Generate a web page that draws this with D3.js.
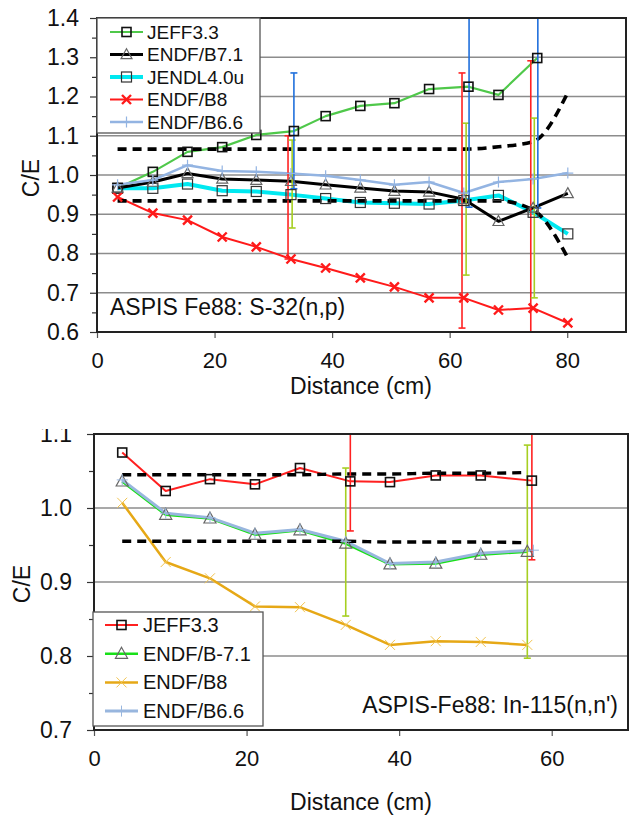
<!DOCTYPE html>
<html><head><meta charset="utf-8">
<script src="https://cdn.jsdelivr.net/npm/d3@7"></script>
<style>body{margin:0;background:#fff}svg{display:block;font-family:"Liberation Sans",Arial,sans-serif}</style>
</head><body>
<svg id="c" width="630" height="816"></svg>
<script>
// ---------- TOP PANEL DATA: ASPIS Fe88 S-32(n,p) ----------
const topDist     = [3.5, 9.5, 15.4, 21.3, 27.1, 33.0, 38.9, 44.8, 50.6, 56.5, 62.4, 68.3, 74.2, 80.1];
const topJeffDist = [3.5, 9.5, 15.4, 21.3, 27.1, 33.5, 38.9, 44.8, 50.6, 56.5, 63.2, 68.3, 74.9];
const topJEFF33   = [0.967, 1.008, 1.059, 1.071, 1.102, 1.112, 1.150, 1.176, 1.183, 1.219, 1.225, 1.204, 1.298];
const topENDF71   = [0.967, 0.982, 1.004, 0.990, 0.987, 0.984, 0.975, 0.967, 0.959, 0.957, 0.938, 0.882, 0.916, 0.953];
const topJENDL40  = [0.966, 0.966, 0.977, 0.960, 0.958, 0.950, 0.940, 0.930, 0.928, 0.926, 0.935, 0.948, 0.905, 0.850];
const topENDF8    = [0.944, 0.903, 0.885, 0.842, 0.817, 0.786, 0.763, 0.738, 0.715, 0.687, 0.687, 0.656, 0.661, 0.623];
const topENDF66   = [0.975, 0.987, 1.025, 1.010, 1.008, 1.004, 0.998, 0.987, 0.975, 0.982, 0.954, 0.982, 0.990, 1.005];
const topBandHi   = [1.066, 1.066, 1.066, 1.066, 1.066, 1.066, 1.066, 1.066, 1.066, 1.066, 1.066, 1.072, 1.085, 1.210];
const topBandLo   = [0.934, 0.934, 0.934, 0.934, 0.934, 0.934, 0.934, 0.934, 0.934, 0.934, 0.934, 0.934, 0.911, 0.789];
const topErrBlueX = [33.5, 63.3, 75.0];
const topErrBlueLo= [0.965, 0.918, 0.916];
const topErrBlueHi= [1.260, 1.530, 1.680];
const topErrRedX  = [32.5, 62.1, 73.8];
const topErrRedLo = [0.786, 0.610, 0.510];
const topErrRedHi = [1.100, 1.260, 1.291];
const topErrYelX  = [33.2, 62.8, 74.4];
const topErrYelLo = [0.865, 0.745, 0.687];
const topErrYelHi = [1.089, 1.132, 1.145];
const topYTicks   = [0.6, 0.7, 0.8, 0.9, 1.0, 1.1, 1.2, 1.3, 1.4];
const topXTicks   = [0, 20, 40, 60, 80];

// ---------- BOTTOM PANEL DATA: ASPIS-Fe88 In-115(n,n') ----------
const botDist     = [3.7, 9.4, 15.2, 21.1, 27.0, 33.0, 38.8, 44.8, 50.7, 56.8];
const botB66Dist  = [3.7, 9.4, 15.2, 21.1, 27.0, 33.0, 38.8, 44.8, 50.7, 57.6];
const botJeffDist = [3.7, 9.4, 15.2, 21.1, 27.0, 33.6, 38.8, 44.8, 50.7, 57.4];
const botJEFF33   = [1.075, 1.023, 1.039, 1.032, 1.054, 1.036, 1.035, 1.044, 1.044, 1.037];
const botENDF71   = [1.036, 0.991, 0.986, 0.964, 0.970, 0.952, 0.924, 0.925, 0.937, 0.941];
const botENDF8    = [1.007, 0.927, 0.905, 0.867, 0.866, 0.842, 0.815, 0.820, 0.819, 0.815];
const botENDF66   = [1.038, 0.993, 0.987, 0.966, 0.971, 0.955, 0.925, 0.927, 0.939, 0.943];
const botBandHi   = [1.045, 1.045, 1.045, 1.045, 1.045, 1.046, 1.046, 1.047, 1.047, 1.048];
const botBandLo   = [0.955, 0.955, 0.955, 0.955, 0.955, 0.955, 0.954, 0.954, 0.954, 0.953];
const botErrRedX  = [33.6, 57.4];
const botErrRedLo = [0.969, 0.930];
const botErrRedHi = [1.103, 1.144];
const botErrYelX  = [33.0, 56.8];
const botErrYelLo = [0.854, 0.797];
const botErrYelHi = [1.054, 1.085];
const botYTicks   = [0.7, 0.8, 0.9, 1.0, 1.1];
const botXTicks   = [0, 20, 40, 60];

const svg = d3.select('#c');

function marker(g, type, cx, cy, s, stroke, sw){
  let p;
  if(type==='square'){
    return g.append('rect').attr('x',cx-s/2).attr('y',cy-s/2).attr('width',s).attr('height',s)
      .attr('fill','none').attr('stroke',stroke).attr('stroke-width',sw);
  }
  if(type==='triangle') p=`M${cx},${cy-s*0.58}L${cx+s*0.55},${cy+s*0.42}L${cx-s*0.55},${cy+s*0.42}Z`;
  if(type==='x') p=`M${cx-s/2},${cy-s/2}L${cx+s/2},${cy+s/2}M${cx+s/2},${cy-s/2}L${cx-s/2},${cy+s/2}`;
  if(type==='plus') p=`M${cx-s/2},${cy}L${cx+s/2},${cy}M${cx},${cy-s/2}L${cx},${cy+s/2}`;
  return g.append('path').attr('d',p).attr('fill','none').attr('stroke',stroke).attr('stroke-width',sw);
}

function panel(p, id){
  const x = d3.scaleLinear().domain(p.xDomain).range([p.left, p.right]);
  const y = d3.scaleLinear().domain(p.yDomain).range([p.bottom, p.top]);
  const g = svg.append('g');
  svg.append('clipPath').attr('id',id).append('rect')
    .attr('x',p.left).attr('y',p.top).attr('width',p.right-p.left).attr('height',p.bottom-p.top);

  // gridlines
  g.selectAll(null).data(p.yTicks.slice(1,-1)).join('line')
    .attr('x1',p.left).attr('x2',p.right).attr('y1',d=>y(d)).attr('y2',d=>y(d))
    .attr('stroke','#8c8c8c').attr('stroke-width',1.3);

  // minor y ticks
  const minor = d3.range(p.yTicks.length-1).map(i=>(p.yTicks[i]+p.yTicks[i+1])/2);
  const ym = g.append('g').attr('transform',`translate(${p.left},0)`)
    .call(d3.axisLeft(y).tickValues(minor).tickSize(5).tickFormat(''));
  ym.select('.domain').remove();
  ym.selectAll('line').attr('stroke','#333').attr('stroke-width',1.2);

  const ya = g.append('g').attr('transform',`translate(${p.left},0)`)
    .call(d3.axisLeft(y).tickValues(p.yTicks).tickSize(7).tickPadding(p.yPad).tickFormat(d3.format('.1f')));
  ya.select('.domain').remove();
  ya.selectAll('line').attr('stroke','#333').attr('stroke-width',1.2);
  ya.selectAll('text').attr('font-size',p.tickFont).attr('fill','#111').attr('font-family','"Liberation Sans",Arial,sans-serif');

  const xa = g.append('g').attr('transform',`translate(0,${p.bottom})`)
    .call(d3.axisBottom(x).tickValues(p.xTicks).tickSize(6).tickPadding(p.xPad).tickFormat(d3.format('d')));
  xa.select('.domain').remove();
  xa.selectAll('line').attr('stroke','#555').attr('stroke-width',1.2);
  xa.selectAll('text').attr('font-size',p.xTickFont).attr('fill','#111').attr('font-family','"Liberation Sans",Arial,sans-serif');

  const plot = g.append('g').attr('clip-path',`url(#${id})`);
  const line = d3.line().x(d=>x(d[0])).y(d=>y(d[1]));

  p.series.forEach(s=>{
    const pts = s.ys.map((v,i)=>[s.xs[i], v]);
    plot.append('path').attr('d',line(pts)).attr('fill','none')
      .attr('stroke',s.color).attr('stroke-width',s.width).attr('stroke-linejoin','round');
  });
  p.bands.forEach(b=>{
    const pts = b.ys.map((v,i)=>[b.xs[i], v]);
    plot.append('path').attr('d',d3.line().curve(d3.curveMonotoneX).x(d=>x(d[0])).y(d=>y(d[1]))(pts))
      .attr('fill','none').attr('stroke','#000').attr('stroke-width',p.bandWidth).attr('stroke-dasharray','9,6');
  });
  p.errors.forEach(e=>{
    e.xs.forEach((xv,i)=>{
      const cx = x(xv), y1 = y(e.lo[i]), y2 = y(e.hi[i]);
      plot.append('line').attr('x1',cx).attr('x2',cx).attr('y1',y1).attr('y2',y2)
        .attr('stroke',e.color).attr('stroke-width',1.6);
      [y1,y2].forEach(yy=>plot.append('line').attr('x1',cx-3.5).attr('x2',cx+3.5).attr('y1',yy).attr('y2',yy)
        .attr('stroke',e.color).attr('stroke-width',1.6));
    });
  });
  p.series.forEach(s=>{
    s.ys.forEach((v,i)=>marker(plot, s.marker, x(s.xs[i]), y(v), s.mSize, s.mColor, s.mWidth));
  });

  // frame
  g.append('rect').attr('x',p.left).attr('y',p.top).attr('width',p.right-p.left).attr('height',p.bottom-p.top)
    .attr('fill','none').attr('stroke','#222').attr('stroke-width',2);

  // legend
  const L = p.legend;
  g.append('rect').attr('x',L.x).attr('y',L.y).attr('width',L.w).attr('height',L.h)
    .attr('fill','#fff').attr('stroke','#555').attr('stroke-width',1.3);
  L.order.forEach((si,k)=>{
    const s = p.series[si];
    const yy = L.y0 + k*L.dy;
    g.append('line').attr('x1',L.lx1).attr('x2',L.lx2).attr('y1',yy).attr('y2',yy)
      .attr('stroke',s.color).attr('stroke-width',s.width);
    marker(g, s.marker, (L.lx1+L.lx2)/2, yy, s.mSize, s.mColor, s.mWidth);
    g.append('text').attr('x',L.tx).attr('y',yy).attr('dy','0.35em').attr('font-size',L.font)
      .attr('fill','#111').text(s.name);
  });

  // annotation & labels
  g.append('text').attr('x',p.note.x).attr('y',p.note.y).attr('text-anchor',p.note.anchor)
    .attr('font-size',p.note.font).attr('fill','#111').text(p.note.text);
  g.append('text').attr('transform',`translate(${p.yLab.x},${p.yLab.y}) rotate(-90)`)
    .attr('text-anchor','middle').attr('dy','0.35em').attr('font-size',23).attr('fill','#111').text('C/E');
  g.append('text').attr('x',p.xLab.x).attr('y',p.xLab.y).attr('text-anchor','middle')
    .attr('font-size',23).attr('fill','#111').text('Distance (cm)');
}

panel({
  left:97, right:626, top:18, bottom:332, xDomain:[0,90], yDomain:[0.6,1.4],
  yTicks: topYTicks, xTicks: topXTicks, yPad:11, xPad:14, tickFont:23, xTickFont:22, bandWidth:3.6,
  series:[
    {name:'JENDL4.0u', xs:topDist, ys:topJENDL40, color:'#00e8f0', width:4, marker:'square', mSize:10, mColor:'#333', mWidth:1.2},
    {name:'JEFF3.3', xs:topJeffDist, ys:topJEFF33, color:'#4fc84a', width:2.2, marker:'square', mSize:9, mColor:'#111', mWidth:1.6},
    {name:'ENDF/B8', xs:topDist, ys:topENDF8, color:'#ff1a1a', width:2, marker:'x', mSize:9, mColor:'#ff1a1a', mWidth:2.4},
    {name:'ENDF/B7.1', xs:topDist, ys:topENDF71, color:'#000', width:3, marker:'triangle', mSize:10, mColor:'#666', mWidth:1.2},
    {name:'ENDF/B6.6', xs:topDist, ys:topENDF66, color:'#93b4e2', width:2.5, marker:'plus', mSize:11, mColor:'#93b4e2', mWidth:1.2}
  ],
  bands:[{xs:topDist, ys:topBandHi},{xs:topDist, ys:topBandLo}],
  errors:[
    {xs:topErrRedX, lo:topErrRedLo, hi:topErrRedHi, color:'#ff2222'},
    {xs:topErrYelX, lo:topErrYelLo, hi:topErrYelHi, color:'#a6cf22'},
    {xs:topErrBlueX, lo:topErrBlueLo, hi:topErrBlueHi, color:'#2070dc'}
  ],
  legend:{x:97, y:18, w:163, h:115, y0:32, dy:22.5, lx1:110, lx2:143, tx:147, font:19, order:[1,3,0,2,4]},
  note:{x:110, y:315, anchor:'start', font:23, text:'ASPIS Fe88: S-32(n,p)'},
  yLab:{x:31, y:178}, xLab:{x:361, y:394}
}, 'clipTop');

panel({
  left:94, right:628, top:434, bottom:730, xDomain:[0,70], yDomain:[0.7,1.1],
  yTicks: botYTicks, xTicks: botXTicks, yPad:15, xPad:14, tickFont:23, xTickFont:22, bandWidth:3.4,
  series:[
    {name:'JEFF3.3', xs:botJeffDist, ys:botJEFF33, color:'#ff2020', width:2, marker:'square', mSize:9, mColor:'#111', mWidth:1.6},
    {name:'ENDF/B8', xs:botDist, ys:botENDF8, color:'#e6a816', width:2.5, marker:'x', mSize:10, mColor:'#f2c450', mWidth:1},
    {name:'ENDF/B-7.1', xs:botDist, ys:botENDF71, color:'#18e018', width:2.6, marker:'triangle', mSize:11, mColor:'#666', mWidth:1.2},
    {name:'ENDF/B6.6', xs:botB66Dist, ys:botENDF66, color:'#98b6de', width:3, marker:'plus', mSize:11, mColor:'#98b6de', mWidth:1}
  ],
  bands:[{xs:botDist, ys:botBandHi},{xs:botDist, ys:botBandLo}],
  errors:[
    {xs:botErrYelX, lo:botErrYelLo, hi:botErrYelHi, color:'#a6cf22'},
    {xs:botErrRedX, lo:botErrRedLo, hi:botErrRedHi, color:'#ff2222'}
  ],
  legend:{x:93, y:612, w:170, h:114, y0:625, dy:28.7, lx1:105, lx2:138, tx:143, font:20, order:[0,2,1,3]},
  note:{x:618, y:713, anchor:'end', font:23, text:"ASPIS-Fe88: In-115(n,n')"},
  yLab:{x:22, y:584}, xLab:{x:361, y:810}
}, 'clipBot');

// the reference crops the top of the bottom panel's "1.1" label
svg.append('rect').attr('x',0).attr('y',400).attr('width',94).attr('height',29).attr('fill','#fff');
</script>
</body></html>
